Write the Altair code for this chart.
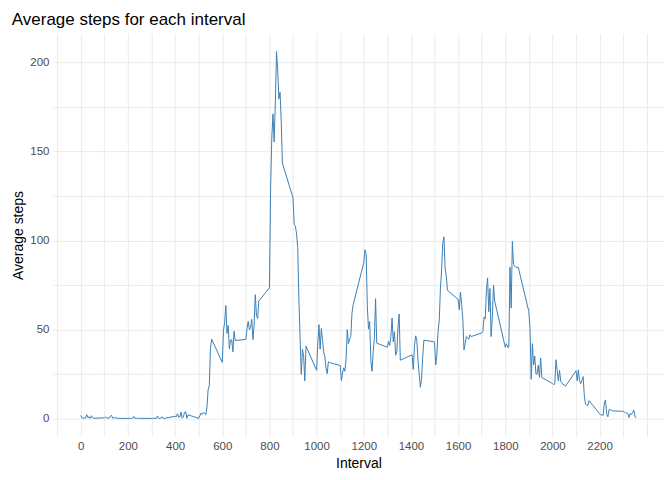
import altair as alt
import pandas as pd

hours = [
 [1.7,0.3,0.1,0.2,0.1,2.1,0.5,0.9,0,1.5,0.3,0.1],
 [0.3,0.7,0.2,0.3,0,1.1,1.8,0.2,0.2,0.4,0.3,0],
 [0,0,0,0,0,1.1,0,0,0,0.1,0,0],
 [0,0,0.1,0,0,1.3,0,0,0.2,0.9,0,0],
 [1.2,0.9,2.6,0.7,0.8,3.5,0.1,0.8,3.3,3.9,0.1,2.0],
 [0,1.5,3.0,2.2,3.3,3.0,2.1,6.1,16.0,18.3,39.5,44.5],
 [31.5,49.3,53.8,63.5,47.8,52.2,39.1,44.0,44.2,37.4,49.0,43.8],
 [44.4,50.5,54.5,49.9,51.0,55.7,44.3,52.3,69.5,57.8,56.2,66.0],
 [73.4,129.4,157.5,171.2,155.4,177.3,206.2,195.9,179.6,183.4,167.0,143.5],
 [124.0,109.1,108.1,103.7,96.0,66.2,45.2,24.8,38.8,35.0,21.1,40.6],
 [27.0,42.4,52.7,38.9,50.5,44.3,37.4,34.7,28.3,25.1,31.9,31.4],
 [29.7,21.3,25.5,28.4,26.5,33.4,50.0,42.0,44.6,46.0,59.2,63.9],
 [87.6,94.8,92.8,63.4,50.2,54.5,32.4,26.5,37.7,45.1,67.3,42.3],
 [40.0,43.3,41.0,46.2,56.4,43.0,48.7,35.5,37.5,51.4,58.7,32.7],
 [35.5,35.7,27.5,40.9,46.4,44.0,32.2,25.0,17.5,22.0,35.0,44.0],
 [43.0,30.0,36.0,48.7,55.0,72.8,83.5,98.7,102.1,84.0,80.0,72.0],
 [66.9,61.2,71.0,64.0,56.0,38.5,42.0,46.0,45.0,44.5,47.0,46.0],
 [48.0,49.0,57.0,56.0,72.0,79.0,60.0,73.0,46.0,57.0,75.0,66.0],
 [40.0,42.0,40.0,40.0,85.0,62.0,99.5,86.6,85.6,84.9,84.9,85.0],
 [60.0,50.0,22.0,42.0,30.0,35.0,25.0,25.0,30.0,23.0,34.0,23.0],
 [19.6,19.0,19.3,33.0,27.0,21.0,27.0,21.0,20.0,19.0,19.0,18.0],
 [26.8,21.2,27.3,21.3,19.5,21.3,23.5,13.0,8.0,7.5,7.2,10.0],
 [2.6,2.0,1.9,1.7,8.7,10.4,2.5,0.9,5.0,4.8,4.6,4.2],
 [4.0,3.5,3.2,3.0,2.6,0.5,2.8,2.2,3.4,4.7,1.1,0.2],
]
intervals = [h * 100 + m for h in range(24) for m in range(0, 60, 5)]
steps = [v for row in hours for v in row]
df = pd.DataFrame({"interval": intervals, "steps": steps})

xgrid = list(range(-100, 2500, 100))
ygrid = list(range(0, 225, 25))

chart = alt.Chart(df).mark_line(color="#3C7FB6", strokeWidth=1, clip=True).encode(
    x=alt.X("interval:Q", title="Interval",
            scale=alt.Scale(domain=[-118, 2473], nice=False, zero=False),
            axis=alt.Axis(values=xgrid, labelExpr="(datum.value % 200 == 0 && datum.value >= 0 && datum.value <= 2200) ? datum.value : ''")),
    y=alt.Y("steps:Q", title="Average steps",
            scale=alt.Scale(domain=[-10.3, 216.5], nice=False, zero=False),
            axis=alt.Axis(values=ygrid, labelExpr="datum.value % 50 == 0 ? datum.value : ''")),
).properties(
    width=612, height=404,
    title=alt.Title("Average steps for each interval", anchor="start", offset=4),
    autosize=alt.AutoSizeParams(type="none"),
    padding={"left": 45, "top": 25, "right": 0, "bottom": 40},
).configure_view(stroke=None).configure_axis(
    domain=False, ticks=False, gridColor="#EBEBEB", gridWidth=1,
    labelColor="#4D4D4D", labelFontSize=11.5, labelFont="Liberation Sans",
    titleFont="Liberation Sans", titleFontSize=14, titleFontWeight="normal", titleColor="#000000",
    labelPadding=4,
).configure_title(font="Liberation Sans", fontSize=17, fontWeight="normal", color="#000000", offset=4, baseline="bottom")

chart.save("out.html", embed_options={"renderer": "svg", "actions": False})
